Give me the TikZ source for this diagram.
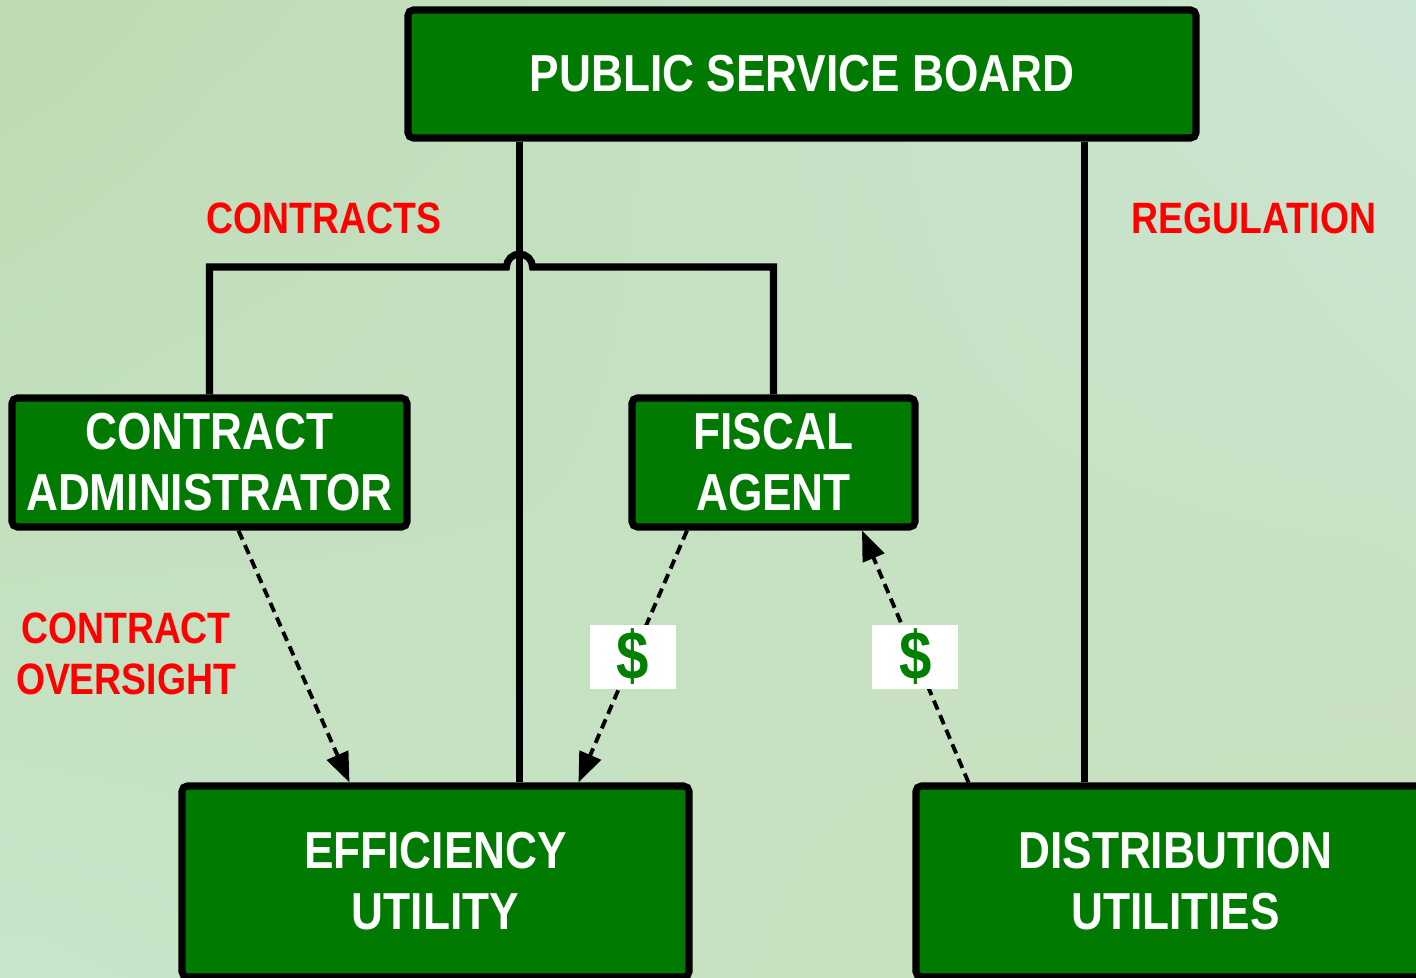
\documentclass[tikz,border=0pt]{standalone}
\usepackage{fontspec}
\setmainfont{Liberation Sans}[FakeStretch=0.85]
\usetikzlibrary{arrows.meta,shadings}
\definecolor{boxgreen}{RGB}{0,122,0}
\definecolor{cashgreen}{RGB}{0,128,0}
\definecolor{paperA}{RGB}{190,218,178}
\definecolor{paperB}{RGB}{204,230,212}
\definecolor{paperC}{RGB}{200,229,202}
\definecolor{paperD}{RGB}{198,222,186}

\begin{document}
\begin{tikzpicture}[
  unit/.style={draw,line width=2pt,fill=boxgreen,rounded corners=1.5pt,inner sep=0pt,
    text=white,align=center,font=\bfseries\fontsize{14.8}{17.4}\selectfont},
  tag/.style={text=red,align=center,font=\bfseries\fontsize{12.5}{14.5}\selectfont},
  link/.style={line width=2pt},
  flow/.style={line width=1.1pt,dash pattern=on 2.8pt off 1.7pt,-{Triangle[length=8.5pt,width=6.5pt]}},
  cash/.style={fill=white,text=cashgreen,minimum width=0.86cm,minimum height=0.64cm,inner sep=0pt,
    font=\bfseries\fontsize{19.5}{19.5}\selectfont}]
\useasboundingbox (0,0) rectangle (14.16,-9.78);
\shade[upper left=paperA,upper right=paperB,lower left=paperC,lower right=paperD] (0,0) rectangle (14.16,-9.78);

\node[unit,minimum width=7.88cm,minimum height=1.28cm] (board) at (8.02,-0.74) {PUBLIC SERVICE BOARD};
\node[unit,minimum width=3.95cm,minimum height=1.29cm] (admin) at (2.095,-4.625) {CONTRACT\\ADMINISTRATOR};
\node[unit,minimum width=2.83cm,minimum height=1.29cm] (fiscal) at (7.735,-4.625) {FISCAL\\AGENT};
\node[unit,minimum width=5.07cm,minimum height=1.91cm] (eff) at (4.355,-8.815) {EFFICIENCY\\UTILITY};
\node[unit,minimum width=5.19cm,minimum height=1.91cm] (dist) at (11.755,-8.815) {DISTRIBUTION\\UTILITIES};

\coordinate (hop) at (5.195,-2.67);
\coordinate (reg) at (10.845,-2.18);
\draw[link] (board.south -| hop) -- (eff.north -| hop);
\draw[link] (admin.north) |- ([xshift=-0.13cm]hop) arc[start angle=180,end angle=0,radius=0.13cm] -| (fiscal.north);
\draw[link] (board.south -| reg) -- (dist.north -| reg);

\node[tag] (contracts) at (3.24,-2.18) {CONTRACTS};
\node[tag] (regulation) at (12.54,-2.18) {REGULATION};
\node[tag] (oversight) at (1.26,-6.54) {CONTRACT\\OVERSIGHT};

\draw[flow] ([xshift=0.29cm]admin.south) -- ([xshift=-0.86cm]eff.north);
\draw[flow] ([xshift=-0.865cm]fiscal.south) -- node[cash] (pay) {\$} ([xshift=1.43cm]eff.north);
\draw[flow] ([xshift=-2.07cm]dist.north) -- node[cash] (fund) {\$} ([xshift=0.885cm]fiscal.south);
\end{tikzpicture}
\end{document}
